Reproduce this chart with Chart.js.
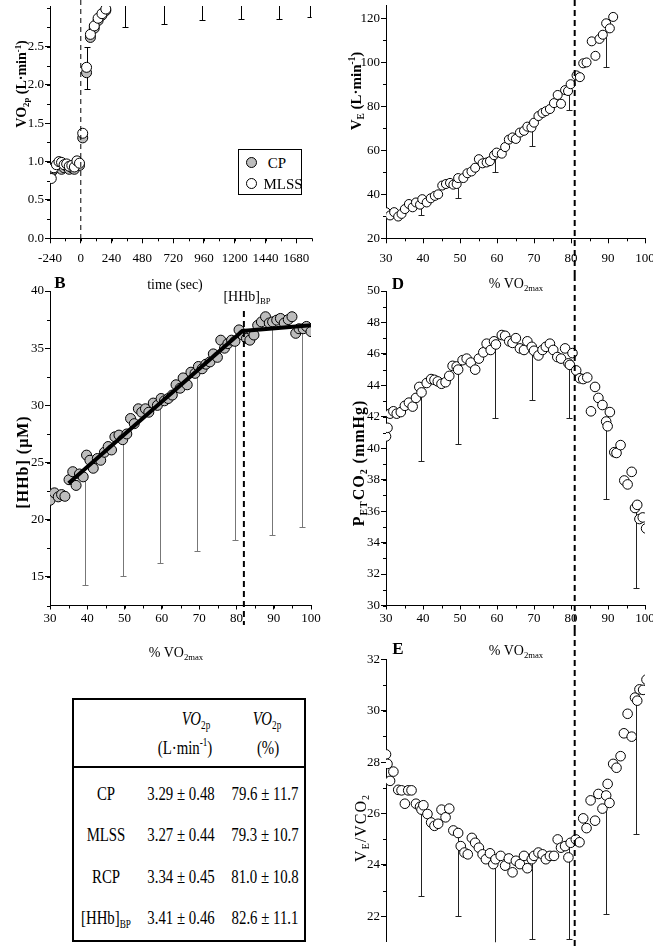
<!DOCTYPE html>
<html><head><meta charset="utf-8">
<script src="https://cdn.jsdelivr.net/npm/chart.js@4.4.1/dist/chart.umd.min.js"></script>
<style>
html,body{margin:0;padding:0;background:#fff;}
body{width:653px;height:947px;position:relative;overflow:hidden;font-family:"Liberation Serif","Times New Roman",serif;color:#000;}
canvas{position:absolute;}
.t{position:absolute;white-space:nowrap;line-height:1;transform:translate(-50%,-50%);z-index:5;}
.r{transform:translate(-50%,-50%) rotate(-90deg);}
.b{font-weight:bold;}
sub,sup{font-size:0.62em;line-height:0;}
sub{vertical-align:-0.35em;} sup{vertical-align:0.6em;}
.c{transform:translate(-50%,-50%) scaleX(0.78);font-size:19px;}
.it{font-style:italic;}
#tbl{position:absolute;left:72px;top:698px;width:230px;height:240px;border:2px solid #000;z-index:4;}
#sep{position:absolute;left:72px;top:766px;width:234px;height:2px;background:#000;z-index:4;}
#leg{position:absolute;left:238px;top:149px;width:62px;height:44px;border:1px solid #000;background:#fff;z-index:4;}
.dot{position:absolute;width:9px;height:9px;border:1px solid #000;border-radius:50%;z-index:5;}
</style></head><body>

<!-- Panel labels and axis titles -->
<div class="t b" style="left:60px;top:282px;font-size:17px;">B</div>
<div class="t b" style="left:398px;top:283px;font-size:17px;">D</div>
<div class="t b" style="left:398px;top:648px;font-size:17px;">E</div>

<div class="t" style="left:175px;top:285px;font-size:14px;">time (sec)</div>
<div class="t" style="left:516px;top:284px;font-size:14px;">% VO<sub>2max</sub></div>
<div class="t" style="left:176px;top:653px;font-size:14px;">% VO<sub>2max</sub></div>
<div class="t" style="left:516px;top:651px;font-size:14px;">% VO<sub>2max</sub></div>
<div class="t" style="left:247px;top:297px;font-size:14px;">[HHb]<sub>BP</sub></div>

<div class="t r b" style="left:22px;top:84px;font-size:14px;">VO<sub>2p</sub> (L·min<sup>-1</sup>)</div>
<div class="t r b" style="left:356px;top:91px;font-size:15px;">V<sub>E</sub> (L·min<sup>-1</sup>)</div>
<div class="t r b" style="left:23px;top:462px;font-size:16px;letter-spacing:1px;">[HHb] (μM)</div>
<div class="t r b" style="left:359px;top:463px;font-size:16px;letter-spacing:1px;">P<sub>ET</sub>CO<sub>2</sub> (mmHg)</div>
<div class="t r" style="left:361px;top:828px;font-size:16px;letter-spacing:1px;">V<sub>E</sub>/VCO<sub>2</sub></div>

<!-- legend -->
<div id="leg"></div>
<div class="dot" style="left:246px;top:157px;background:#bdbdbd;"></div>
<div class="dot" style="left:246px;top:178px;background:#fff;"></div>
<div class="t" style="left:277px;top:163px;font-size:15px;">CP</div>
<div class="t" style="left:283px;top:184px;font-size:15px;">MLSS</div>

<!-- table -->
<div id="tbl"></div>
<div id="sep"></div>
<div class="t c" style="left:196px;top:718px;"><span class="it">VO</span><sub>2p</sub></div>
<div class="t c" style="left:185px;top:747px;">(L·min<sup>-1</sup>)</div>
<div class="t c" style="left:267px;top:718px;"><span class="it">VO</span><sub>2p</sub></div>
<div class="t c" style="left:268px;top:747px;">(%)</div>
<div id="rows"></div>

<script>
// ---------------- DATA ----------------
// Panel A: VO2p vs time (sec)
const timeA = [-230,-210,-190,-170,-150,-130,-110,-90,-70,-50,-30,-10,15,45,75,105,135,165,195];
const mlssA = [0.78,0.92,0.96,1.0,0.99,0.96,0.97,0.94,0.95,0.93,1.01,0.98,1.37,2.23,2.66,2.77,2.87,2.93,2.99];
const cpA   = [0.86,0.9,0.93,0.96,0.9,0.92,0.94,0.9,0.92,0.9,0.96,0.95,1.31,2.16,2.62,2.74,2.84,2.91,2.97];
const errTimeA = [45,345,645,945,1245,1545,1785];
const errLoA   = [1.95,2.75,2.79,2.85,2.86,2.86,2.88];
const errHiA   = [2.49,3.7,3.7,3.6,3.6,3.6,3.6];
const xTicksA = [-240,0,240,480,720,960,1200,1440,1680];

// Panel B: [HHb] vs %VO2max
const pctB = [30,31.2,32.2,33.1,34.0,35.1,36.1,37.0,37.9,38.9,39.8,40.7,41.6,42.7,43.6,44.6,45.6,46.5,47.4,48.5,49.5,50.6,51.6,52.6,53.7,54.6,55.6,56.5,57.7,58.8,59.8,60.7,61.7,62.8,63.8,64.9,65.7,66.8,67.8,68.9,69.8,70.8,71.8,72.9,73.8,74.9,75.8,76.8,77.7,78.7,79.6,80.7,81.7,82.7,83.6,84.7,85.7,86.7,87.8,88.8,89.7,90.8,91.8,92.8,93.9,94.9,95.9,96.8,97.9,98.8,100];
const hhbB = [21.7,22.35,22.0,22.2,22.05,23.5,24.2,23.0,24.0,23.75,25.65,25.2,24.5,25.35,25.2,25.9,26.4,26.1,27.25,27.4,27.0,27.5,28.85,28.4,29.7,29.4,29.7,29.4,30.2,30.0,30.6,30.4,30.6,30.9,31.8,31.5,32.4,31.8,32.9,32.8,33.4,33.2,33.6,33.8,34.5,34.2,35.7,35.0,35.4,35.7,35.6,36.6,36.15,35.85,35.7,36.15,37.0,37.3,37.75,37.2,37.3,37.45,37.6,37.2,37.5,37.75,36.3,36.7,36.7,36.9,36.45];
const fitPctB = [35,81.6,100];
const fitHhbB = [23.2,36.5,37.0];
const errPctB = [39.5,49.5,59.5,69.5,79.5,89.5,97.5];
const errLoB  = [14.3,15.1,16.2,17.3,18.2,18.7,19.4];
const errHiB  = [24.0,27.0,30.0,32.8,35.6,37.0,36.5];
const bpB = 82;

// Panel C: VE vs %VO2max
const pctC = [30,31.1,32.2,33.3,34.2,35.1,36.2,37.2,38.1,39.2,39.8,41.0,42.1,43.2,44.1,45.2,46.2,47.3,48.2,49.1,49.5,50.9,52.0,53.1,54.1,55.1,56.1,57.2,58.1,59.2,59.9,61.3,62.2,63.2,64.2,65.1,66.2,67.3,68.2,69.3,70.0,71.2,72.3,73.2,74.3,75.4,76.4,77.3,78.4,79.2,79.9,81.5,82.4,83.3,84.2,85.6,86.6,87.7,88.6,89.5,90.5,91.4];
const veC  = [31.9,30.4,31.9,29.9,31.1,33.3,35.6,34.1,36.3,35.3,37.8,36.3,38.2,39.3,40.0,44.0,44.7,45.2,44.4,44.7,47.4,47.4,49.6,50.4,52.1,56.0,54.1,54.5,55.1,57.8,59.0,58.5,61.5,64.9,65.9,65.2,68.1,68.9,70.8,70.4,72.6,75.6,77.0,77.8,78.8,81.5,85.2,81.2,87.4,87.0,90.1,94.1,93.3,99.6,100,109.6,103,110.7,112.6,117.8,115.5,120.7];
const errPctC = [39.5,49.5,59.5,69.5,79.5,89.5];
const errLoC  = [30.4,38.5,50.1,61.9,78.2,98.1];
const errHiC  = [37,45,58,71,88,116];

// Panel D: PETCO2 vs %VO2max
const pctD = [30,30.4,31.1,32.0,32.9,34.0,35.1,36.2,37.2,38.1,39.0,39.6,41.0,42.2,43.1,44.0,45.0,46.1,47.1,48.0,49.1,49.5,50.7,51.8,52.9,54.1,55.1,56.3,57.2,58.3,59.2,59.7,61.3,62.2,63.3,64.2,65.1,66.2,67.3,68.2,69.4,70.0,71.2,72.3,73.2,74.3,75.2,76.3,77.3,78.4,79.3,79.7,80.4,81.4,82.4,83.3,84.4,85.4,86.5,87.4,88.5,89.5,89.9,90.5,91.7,92.3,93.4,94.4,95.3,96.4,97.3,97.9,98.5,99.4,100.3];
const petD = [40.75,41.3,42.2,42.35,42.2,42.3,42.7,42.9,42.65,43.2,43.9,43.55,44.15,44.4,44.35,44.25,44.1,44.2,44.6,45.24,45.2,45.0,45.6,45.7,45.45,45.0,45.7,46.1,46.65,46.25,46.8,46.6,47.2,47.15,46.8,46.7,47.0,46.35,46.25,46.8,46.45,46.2,45.9,46.25,46.45,46.65,46.25,45.8,45.7,46.35,45.4,45.3,46.05,44.95,44.45,44.4,44.5,42.35,43.9,43.2,42.75,41.7,41.4,42.3,39.75,39.7,40.2,37.95,37.7,38.5,36.2,36.4,35.5,35.6,34.9];
const errPctD = [39.5,49.5,59.5,69.5,79.5,89.5,97.5];
const errLoD  = [39.2,40.3,41.9,43.1,41.9,36.8,31.1];
const errHiD  = [43.6,45.0,46.6,46.4,45.4,41.4,36.4];

// Panel E: VE/VCO2 vs %VO2max
const pctE = [30,30.4,31.1,32.0,33.3,34.2,35.1,36.0,36.9,38.1,39.2,39.6,40.1,41.2,42.2,43.1,44.1,45.0,46.1,47.1,48.2,49.5,50.2,51.2,52.1,53.2,54.1,55.1,56.1,57.0,58.1,59.0,59.6,61.0,62.2,63.2,64.2,65.1,66.2,67.3,68.2,69.4,70.0,71.2,72.3,73.2,74.3,75.4,76.4,77.3,78.4,79.3,79.9,81.3,82.3,83.3,84.2,85.3,86.5,87.4,88.5,89.5,89.9,90.4,91.4,92.3,93.4,94.3,95.3,96.4,97.3,97.9,98.5,99.5,100.4];
const eqE  = [28.3,27.93,27.27,27.63,26.92,26.9,26.38,26.9,26.9,26.38,26.26,26.15,26.32,25.98,25.65,25.52,25.6,26.15,25.85,26.19,25.34,25.24,24.73,24.48,24.41,25.05,24.86,24.67,24.41,24.22,24.45,24.03,24.22,24.35,23.97,24.25,23.71,24.16,24.03,24.35,23.87,24.22,24.35,24.48,24.41,24.22,24.35,24.35,24.99,24.67,24.73,24.29,24.86,24.99,24.88,25.81,25.43,26.51,25.72,26.76,26.19,26.70,27.15,26.41,27.93,27.78,28.23,29.12,29.88,28.99,30.51,30.39,30.83,30.81,31.21];
const errPctE = [39.5,49.5,59.5,69.5,79.5,89.5,97.5];
const errLoE  = [22.8,22.0,20.5,21.1,21.1,22.1,25.2];
const errHiE  = [26.2,25.2,24.1,24.2,24.8,26.4,30.4];
const rcpPct = 81;

// Table
const tblRows  = ['CP','MLSS','RCP','[HHb]<sub>BP</sub>'];
const tblAbs   = ['3.29 ± 0.48','3.27 ± 0.44','3.34 ± 0.45','3.41 ± 0.46'];
const tblPct   = ['79.6 ± 11.7','79.3 ± 10.7','81.0 ± 10.8','82.6 ± 11.1'];

// ---------------- TABLE ----------------
const rowY = [793,834,876,917];
let h='';
tblRows.forEach((r,i)=>{
  h += `<div class="t c" style="left:106px;top:${rowY[i]}px;">${r}</div>`;
  h += `<div class="t c" style="left:181px;top:${rowY[i]}px;">${tblAbs[i]}</div>`;
  h += `<div class="t c" style="left:265px;top:${rowY[i]}px;">${tblPct[i]}</div>`;
});
document.getElementById('rows').innerHTML = h;

// ---------------- CHARTS ----------------
Chart.defaults.font.family = "'Liberation Serif', 'Times New Roman', serif";
Chart.defaults.color = '#000';

const vlinePlugin = {
  id:'vline',
  afterDatasetsDraw(chart, args, o){
    if (o.value === undefined) return;
    const x = chart.scales.x.getPixelForValue(o.value);
    const ctx = chart.ctx;
    ctx.save();
    ctx.strokeStyle = '#000'; ctx.lineWidth = o.width; ctx.setLineDash(o.dash);
    ctx.beginPath();
    ctx.moveTo(x, o.y0 !== undefined ? o.y0 : chart.chartArea.top);
    ctx.lineTo(x, o.y1 !== undefined ? o.y1 : chart.chartArea.bottom);
    ctx.stroke(); ctx.restore();
  }
};
const errPlugin = {
  id:'errbars',
  beforeDatasetsDraw(chart, args, o){
    if (!o.x) return;
    const ctx = chart.ctx, a = chart.chartArea, xs = chart.scales.x, ys = chart.scales.y;
    ctx.save();
    ctx.beginPath(); ctx.rect(a.left, a.top, a.right-a.left, a.bottom-a.top+1); ctx.clip();
    ctx.strokeStyle = o.color; ctx.lineWidth = 1; ctx.setLineDash([]);
    o.x.forEach((v,i)=>{
      const px = Math.round(xs.getPixelForValue(v)) + 0.5;
      const pl = Math.round(ys.getPixelForValue(o.lo[i])) + 0.5;
      const ph = ys.getPixelForValue(o.hi[i]);
      ctx.beginPath();
      ctx.moveTo(px, pl); ctx.lineTo(px, ph);
      ctx.moveTo(px-o.cap, pl); ctx.lineTo(px+o.cap, pl);
      if (o.capHi) { const q = Math.round(ph)+0.5; ctx.moveTo(px-o.cap, q); ctx.lineTo(px+o.cap, q); }
      ctx.stroke();
    });
    ctx.restore();
  }
};
const minorPlugin = {
  id:'minor',
  afterDraw(chart, args, o){
    const ctx = chart.ctx, a = chart.chartArea;
    ctx.save(); ctx.strokeStyle = '#000'; ctx.lineWidth = 1; ctx.setLineDash([]);
    ctx.beginPath();
    if (o.x && chart.scales.x.options.display !== false) {
      const s = chart.scales.x;
      for (let k = Math.ceil(s.min/o.x - 1e-9); k*o.x <= s.max + 1e-9; k++) {
        const p = Math.round(s.getPixelForValue(k*o.x)) + 0.5;
        ctx.moveTo(p, a.bottom); ctx.lineTo(p, a.bottom + o.len);
      }
    }
    if (o.y) {
      const s = chart.scales.y;
      for (let k = Math.ceil(s.min/o.y - 1e-9); k*o.y <= s.max + 1e-9; k++) {
        const p = Math.round(s.getPixelForValue(k*o.y)) + 0.5;
        ctx.moveTo(a.left, p); ctx.lineTo(a.left - o.len, p);
      }
    }
    ctx.stroke(); ctx.restore();
  }
};

function axis(o){
  return {
    type:'linear', min:o.min, max:o.max, display:o.display !== false,
    border:{display:true, color:'#000', width:1},
    grid:{display:true, drawOnChartArea:false, drawTicks:true, tickLength:o.tl || 5, color:'#000', tickColor:'#000'},
    ticks:{stepSize:o.step, includeBounds:false, autoSkip:false, maxRotation:0, minRotation:0,
           padding:o.pad || 1, font:{size:13}, color:'#000', callback:o.cb},
    afterBuildTicks: s => { s.ticks = s.ticks.filter(t => t.value >= o.min - 1e-9 && t.value <= (o.tmax !== undefined ? o.tmax : o.max) + 1e-9); },
    afterFit: s => {
      if (o.w !== undefined) s.width = o.w;
      if (o.h !== undefined) s.height = o.h;
      s.paddingTop = 0; s.paddingBottom = 0; s.paddingLeft = 0; s.paddingRight = 0;
    }
  };
}
function pts(xs, ys){ return xs.map((x,i)=>({x:x, y:ys[i]})); }
function circles(label, xs, ys, fill, r, order){
  return {type:'scatter', label:label, data:pts(xs,ys), showLine:false, order:order,
    pointRadius:r, pointHoverRadius:r, pointBackgroundColor:fill, pointBorderColor:'#000', pointBorderWidth:1};
}

function make(cv, area, datasets, xo, yo, plug){
  const el = document.createElement('canvas');
  el.width = cv.w; el.height = cv.h;
  el.style.left = cv.left + 'px'; el.style.top = cv.top + 'px';
  el.style.width = cv.w + 'px'; el.style.height = cv.h + 'px';
  document.body.appendChild(el);
  yo.w = area.L - cv.left;
  const xh = cv.top + cv.h - area.B;
  if (xo.display !== false) xo.h = xh;
  new Chart(el.getContext('2d'), {
    type:'scatter',
    data:{datasets:datasets},
    options:{
      responsive:false, animation:false, devicePixelRatio:1, events:[],
      layout:{padding:{left:0, top:area.T - cv.top, right:cv.left + cv.w - area.R, bottom: xo.display === false ? xh : 0}},
      plugins:Object.assign({legend:{display:false}, tooltip:{enabled:false}}, plug),
      scales:{x:axis(xo), y:axis(yo)}
    },
    plugins:[errPlugin, vlinePlugin, minorPlugin]
  });
}

const GRAY = '#bdbdbd';

// Panel A
make({left:0, top:0, w:330, h:275}, {L:50, T:0, R:311.7, B:238.3},
  [circles('MLSS', timeA, mlssA, '#fff', 5, 0), circles('CP', timeA, cpA, GRAY, 5, 1)],
  {min:-240, max:1800, step:240, pad:7, cb:v => xTicksA.includes(v) ? String(v) : ''},
  {min:0, max:3.03, step:0.5, tmax:2.5, cb:v => v.toFixed(1)},
  {errbars:{x:errTimeA, lo:errLoA, hi:errHiA, color:'#000', cap:3, capHi:true},
   vline:{value:0, width:1, dash:[5,4], y0:0},
   minor:{x:120, y:0.25, len:3}});

// Panel C
make({left:330, top:0, w:323, h:275}, {L:386, T:0, R:645, B:238.3},
  [circles('VE', pctC, veC, '#fff', 4.5, 0)],
  {min:30, max:100, step:10, pad:7},
  {min:20, max:125.9, step:20, tmax:120},
  {errbars:{x:errPctC, lo:errLoC, hi:errHiC, color:'#222', cap:3},
   vline:{value:rcpPct, width:2, dash:[6,4], y0:0, y1:275},
   minor:{x:5, y:10, len:3}});

// Panel B
make({left:0, top:275, w:330, h:355}, {L:50, T:291, R:311, B:605.5},
  [{type:'line', label:'fit', data:pts(fitPctB, fitHhbB), borderColor:'#000', borderWidth:4, pointRadius:0, tension:0, order:0},
   circles('HHb', pctB, hhbB, GRAY, 5, 1)],
  {min:30, max:100, step:10, pad:0, tl:4},
  {min:12.5, max:40, step:5},
  {errbars:{x:errPctB, lo:errLoB, hi:errHiB, color:'#777', cap:3},
   vline:{value:bpB, width:2, dash:[6,4], y0:36, y1:350},
   minor:{x:5, y:2.5, len:3}});

// Panel D
make({left:330, top:275, w:323, h:355}, {L:386, T:291, R:645, B:605.5},
  [circles('PETCO2', pctD, petD, '#fff', 4.8, 0)],
  {min:30, max:100, step:10, pad:0, tl:4},
  {min:30, max:50, step:2},
  {errbars:{x:errPctD, lo:errLoD, hi:errHiD, color:'#222', cap:3},
   vline:{value:rcpPct, width:2, dash:[6,4], y0:0, y1:355},
   minor:{x:5, y:1, len:3}});

// Panel E
make({left:330, top:630, w:323, h:317}, {L:386, T:659.3, R:645, B:947},
  [circles('VE/VCO2', pctE, eqE, '#fff', 4.8, 0)],
  {min:30, max:100, step:10, display:false},
  {min:21.03, max:32, step:2},
  {errbars:{x:errPctE, lo:errLoE, hi:errHiE, color:'#222', cap:3},
   vline:{value:rcpPct, width:2, dash:[6,4], y0:0, y1:317},
   minor:{y:1, len:3}});
</script>
</body></html>
